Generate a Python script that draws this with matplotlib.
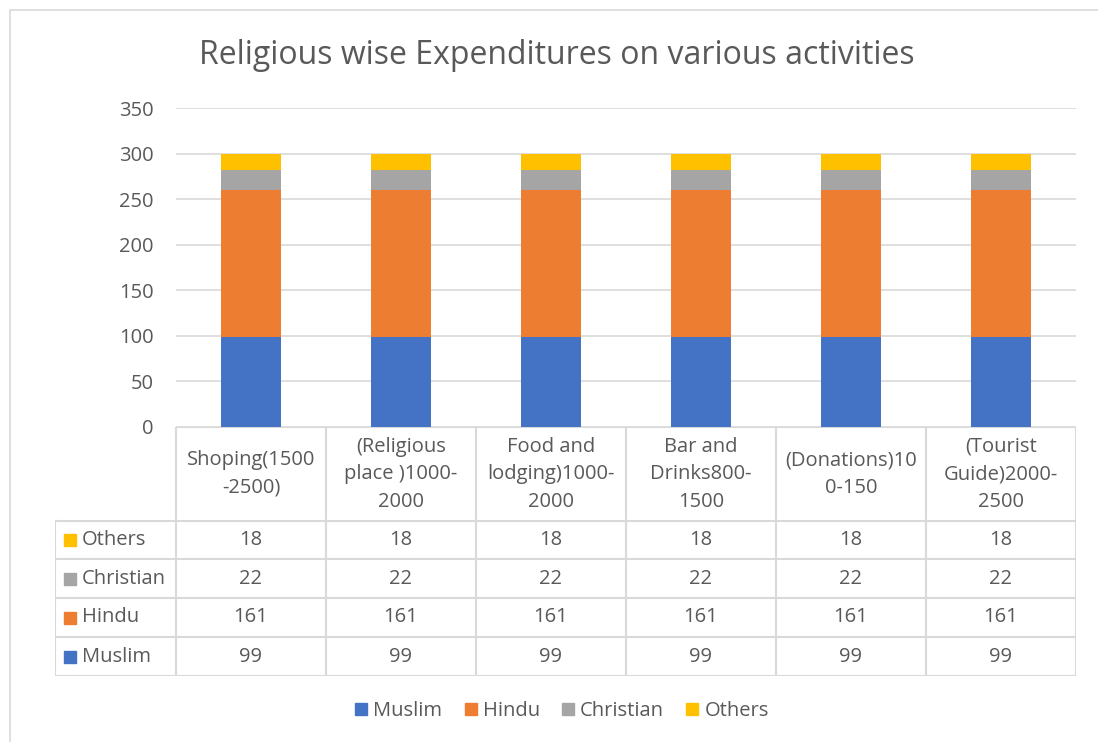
import numpy as np
import matplotlib.pyplot as plt
from matplotlib.patches import Rectangle

categories = ["Shoping(1500\n-2500)", "(Religious\nplace )1000-\n2000", "Food and\nlodging)1000-\n2000",
              "Bar and\nDrinks800-\n1500", "(Donations)10\n0-150", "(Tourist\nGuide)2000-\n2500"]
series_names = ["Muslim", "Hindu", "Christian", "Others"]
muslim = [99, 99, 99, 99, 99, 99]
hindu = [161, 161, 161, 161, 161, 161]
christian = [22, 22, 22, 22, 22, 22]
others = [18, 18, 18, 18, 18, 18]
yticks = [0, 50, 100, 150, 200, 250, 300, 350]

colors = ["#4472C4", "#ED7D31", "#A5A5A5", "#FFC000"]
txt = "#595959"
grid = "#D9D9D9"
fs = 14.5
plt.rcParams['font.family'] = ['Open Sans', 'DejaVu Sans']

W, H = 1098, 742
fig = plt.figure(figsize=(W / 100, H / 100), dpi=100)

def px_axes(x0, y0, x1, y1):
    # axes box given in pixel coordinates (top-left origin)
    return fig.add_axes([x0 / W, 1 - y1 / H, (x1 - x0) / W, (y1 - y0) / H])

# chart border
fig.patches.append(Rectangle((10 / W, -0.1), 1.2, 1 - 10 / H + 0.1, transform=fig.transFigure,
                             fill=False, edgecolor=grid, lw=1.2))

fig.text(557 / W, 1 - 55 / H, "Religious wise Expenditures on various activities",
         ha="center", va="center", fontsize=23, color=txt)

ax = px_axes(176, 108, 1076, 427)
x = np.arange(len(categories))
data = [muslim, hindu, christian, others]
bottom = np.zeros(len(categories))
for vals, c, name in zip(data, colors, series_names):
    ax.bar(x, vals, 0.4, bottom=bottom, color=c, label=name, zorder=3)
    bottom += np.array(vals)
ax.set_xlim(-0.5, len(categories) - 0.5)
ax.set_ylim(0, 350)
ax.set_yticks(yticks)
ax.set_yticklabels([str(t) for t in yticks], fontsize=fs, color=txt)
ax.tick_params(axis="y", length=0, pad=16)
ax.set_xticks([])
ax.grid(axis="y", color=grid, lw=1.2, zorder=0)
for s in ax.spines.values():
    s.set_visible(False)

# data table below the plot
tb = px_axes(55, 427, 1076, 676)
left = -0.5 - 121 / 150
tb.set_xlim(left, len(categories) - 0.5)
tb.set_ylim(676, 427)
tb.axis("off")
row_edges = [427, 521, 559, 598, 637, 676]
lc = dict(color=grid, lw=1.5)
for i in range(len(categories) + 1):
    tb.plot([i - 0.5, i - 0.5], [row_edges[0], row_edges[-1]], **lc)
tb.plot([left, left], [row_edges[1], row_edges[-1]], **lc)
for j, y in enumerate(row_edges):
    tb.plot([left if j > 0 else -0.5, len(categories) - 0.5], [y, y], **lc)

for i, cat in enumerate(categories):
    tb.text(i, (row_edges[0] + row_edges[1]) / 2, cat, ha="center", va="center",
            fontsize=fs, color=txt, linespacing=1.5)

rows = list(zip(series_names, data, colors))[::-1]
for r, (name, vals, c) in enumerate(rows):
    yc = (row_edges[r + 1] + row_edges[r + 2]) / 2
    tb.add_patch(Rectangle((left + 9 / 150, yc - 6), 12 / 150, 12, color=c, clip_on=False))
    tb.text(left + 27 / 150, yc, name, ha="left", va="center", fontsize=fs, color=txt)
    for i, v in enumerate(vals):
        tb.text(i, yc, str(v), ha="center", va="center", fontsize=fs, color=txt)

handles = [Rectangle((0, 0), 1, 1, color=c) for c in colors]
fig.legend(handles, series_names, loc="center", bbox_to_anchor=(562 / W, 1 - 711 / H), ncol=4,
           frameon=False, fontsize=fs, labelcolor=txt, handlelength=0.6, handleheight=0.6,
           handletextpad=0.3, columnspacing=1.1)

fig.savefig("out.png", dpi=100)
